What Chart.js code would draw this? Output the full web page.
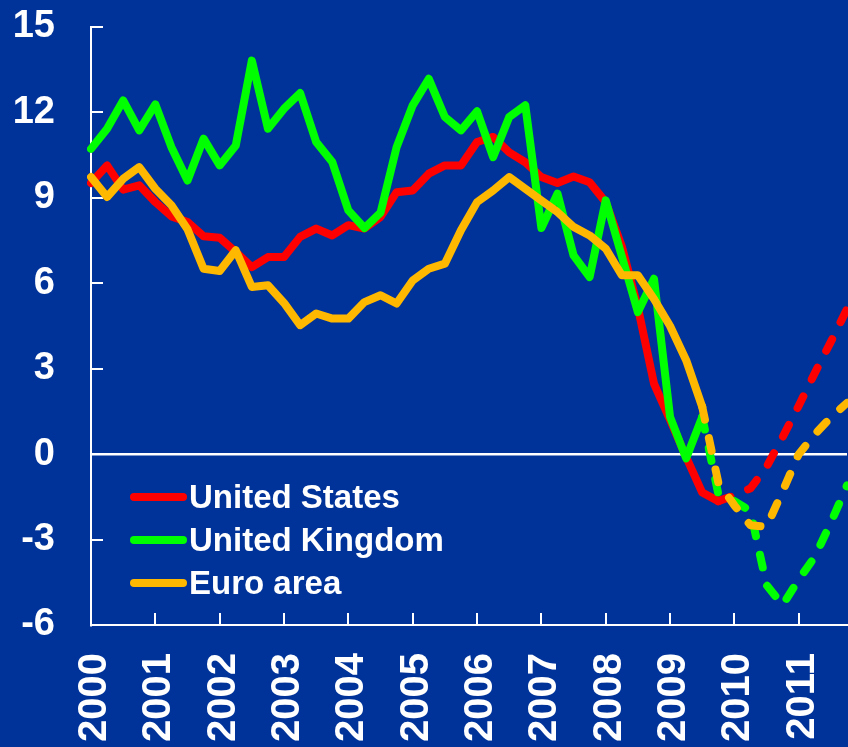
<!DOCTYPE html>
<html lang="en">
<head>
<meta charset="UTF-8">
<title>Growth</title>
<script src="https://cdn.jsdelivr.net/npm/chart.js"></script>
<style>
  html, body { margin: 0; padding: 0; background: #003399; }
  #wrap { width: 848px; height: 747px; }
</style>
</head>
<body>
<div id="wrap"><canvas id="growthChart"></canvas></div>
<script>
// quarterly data, 2000 Q1 - 2011 Q4
const years = [2000, 2001, 2002, 2003, 2004, 2005, 2006, 2007, 2008, 2009, 2010, 2011];
const quarters = years.flatMap(y => ['Q1', 'Q2', 'Q3', 'Q4'].map(q => y + ' ' + q));

const usValues = [
  9.52, 10.14, 9.29, 9.44,
  8.85, 8.35, 8.15, 7.65,
  7.60, 7.10, 6.57, 6.92,
  6.92, 7.63, 7.92, 7.68,
  8.04, 7.92, 8.33, 9.20,
  9.26, 9.85, 10.14, 10.14,
  10.96, 11.14, 10.60, 10.25,
  9.73, 9.52, 9.75, 9.55,
  8.85, 7.30, 5.15, 2.48,
  1.20, -0.10, -1.35, -1.65,
  -1.45, -1.20, -0.45, 0.60,
  1.70, 2.85, 3.95, 5.10
];
const ukValues = [
  10.72, 11.43, 12.42, 11.37,
  12.28, 10.78, 9.61, 11.08,
  10.14, 10.84, 13.82, 11.43,
  12.13, 12.68, 10.96, 10.26,
  8.56, 7.94, 8.48, 10.78,
  12.25, 13.18, 11.84, 11.37,
  12.04, 10.43, 11.84, 12.25,
  7.94, 9.15, 6.98, 6.22,
  8.91, 6.95, 4.99, 6.16,
  1.31, -0.15, 1.31, -1.40,
  -1.65, -2.00, -4.60, -5.30,
  -4.40, -3.60, -2.40, -1.10
];
const euroValues = [
  9.73, 9.03, 9.67, 10.08,
  9.32, 8.74, 7.90, 6.51,
  6.43, 7.16, 5.87, 5.93,
  5.31, 4.53, 4.94, 4.76,
  4.76, 5.34, 5.58, 5.29,
  6.10, 6.51, 6.69, 7.86,
  8.85, 9.26, 9.73, 9.32,
  8.91, 8.50, 7.98, 7.68,
  7.22, 6.28, 6.28, 5.45,
  4.50, 3.30, 1.66, -1.00,
  -1.80, -2.50, -2.55, -1.30,
  0.00, 0.70, 1.30, 1.80
];
// last quarter of outturn data (index), forecasts after it are dashed
const lastActual = [39, 38, 38];
const seriesNames = ['United States', 'United Kingdom', 'Euro area'];
const yTicks = [-6, -3, 0, 3, 6, 9, 12, 15];

const colors = ['#ff0000', '#00ff00', '#ffb800'];
const fontFamily = '"Liberation Sans", Arial, sans-serif';

function makeSet(i, values) {
  return {
    label: seriesNames[i],
    data: values,
    borderColor: colors[i],
    backgroundColor: colors[i],
    borderWidth: 8,
    borderCapStyle: 'round',
    borderJoinStyle: 'round',
    pointRadius: 0,
    tension: 0,
    order: 3 - i,
    segment: {
      borderDash: ctx => ctx.p0DataIndex >= lastActual[i] ? [13, 19] : undefined
    }
  };
}

// small inward tick marks on both axes
const axisMarks = {
  id: 'axisMarks',
  beforeDatasetsDraw(chart) {
    const { ctx, chartArea, scales } = chart;
    ctx.save();
    ctx.strokeStyle = '#ffffff';
    ctx.lineWidth = 2;
    yTicks.forEach(v => {
      const py = Math.round(scales.y.getPixelForValue(v));
      ctx.beginPath();
      ctx.moveTo(chartArea.left, py);
      ctx.lineTo(chartArea.left + 12, py);
      ctx.stroke();
    });
    years.forEach((yr, i) => {
      const px = Math.round(scales.x.getPixelForValue(i * 4));
      ctx.beginPath();
      ctx.moveTo(px, chartArea.bottom);
      ctx.lineTo(px, chartArea.bottom - 12);
      ctx.stroke();
    });
    ctx.restore();
  }
};

// legend in the lower left corner of the plot
const cornerLegend = {
  id: 'cornerLegend',
  afterDatasetsDraw(chart) {
    const { ctx, chartArea } = chart;
    const rows = [128, 85, 42];
    ctx.save();
    ctx.font = 'bold 33px ' + fontFamily;
    ctx.textBaseline = 'alphabetic';
    ctx.fillStyle = '#ffffff';
    chart.data.datasets.forEach((ds, i) => {
      const y = chartArea.bottom - rows[i];
      ctx.strokeStyle = ds.borderColor;
      ctx.lineWidth = 8;
      ctx.lineCap = 'round';
      ctx.beginPath();
      ctx.moveTo(chartArea.left + 43, y);
      ctx.lineTo(chartArea.left + 92, y);
      ctx.stroke();
      ctx.fillText(ds.label, chartArea.left + 98, y + 11);
    });
    ctx.restore();
  }
};

const ctx = document.getElementById('growthChart').getContext('2d');
new Chart(ctx, {
  type: 'line',
  data: {
    labels: quarters,
    datasets: [makeSet(0, usValues), makeSet(1, ukValues), makeSet(2, euroValues)]
  },
  options: {
    responsive: true,
    maintainAspectRatio: false,
    animation: false,
    layout: { padding: { left: 0, top: 27, right: 1, bottom: 0 } },
    plugins: {
      legend: { display: false },
      tooltip: { enabled: false }
    },
    scales: {
      x: {
        type: 'category',
        offset: false,
        afterFit: s => { s.height = 122; },
        // invisible tick marks only make room between axis and labels
        grid: { drawOnChartArea: false, drawTicks: true, tickLength: 28, color: 'rgba(0,0,0,0)', tickColor: 'rgba(0,0,0,0)' },
        border: { display: true, color: '#ffffff', width: 2 },
        ticks: {
          autoSkip: false,
          minRotation: 90,
          maxRotation: 90,
          padding: 0,
          labelOffset: 4,
          color: '#ffffff',
          font: { family: fontFamily, size: 40, weight: 'bold' },
          callback: (value, index) => index % 4 === 0 ? String(years[index / 4]) : null
        }
      },
      y: {
        min: -6,
        max: 15,
        afterFit: s => { s.width = 91; },
        afterBuildTicks: s => { s.ticks = yTicks.map(v => ({ value: v })); },
        grid: {
          drawTicks: true,
          tickLength: 36,
          tickColor: 'rgba(0,0,0,0)',
          color: c => (c.tick && c.tick.value === 0) ? '#ffffff' : 'rgba(0,0,0,0)',
          lineWidth: 2.5
        },
        border: { display: true, color: '#ffffff', width: 2 },
        ticks: {
          padding: 0,
          color: '#ffffff',
          font: { family: fontFamily, size: 38, weight: 'bold' }
        }
      }
    }
  },
  plugins: [axisMarks, cornerLegend]
});
</script>
</body>
</html>
